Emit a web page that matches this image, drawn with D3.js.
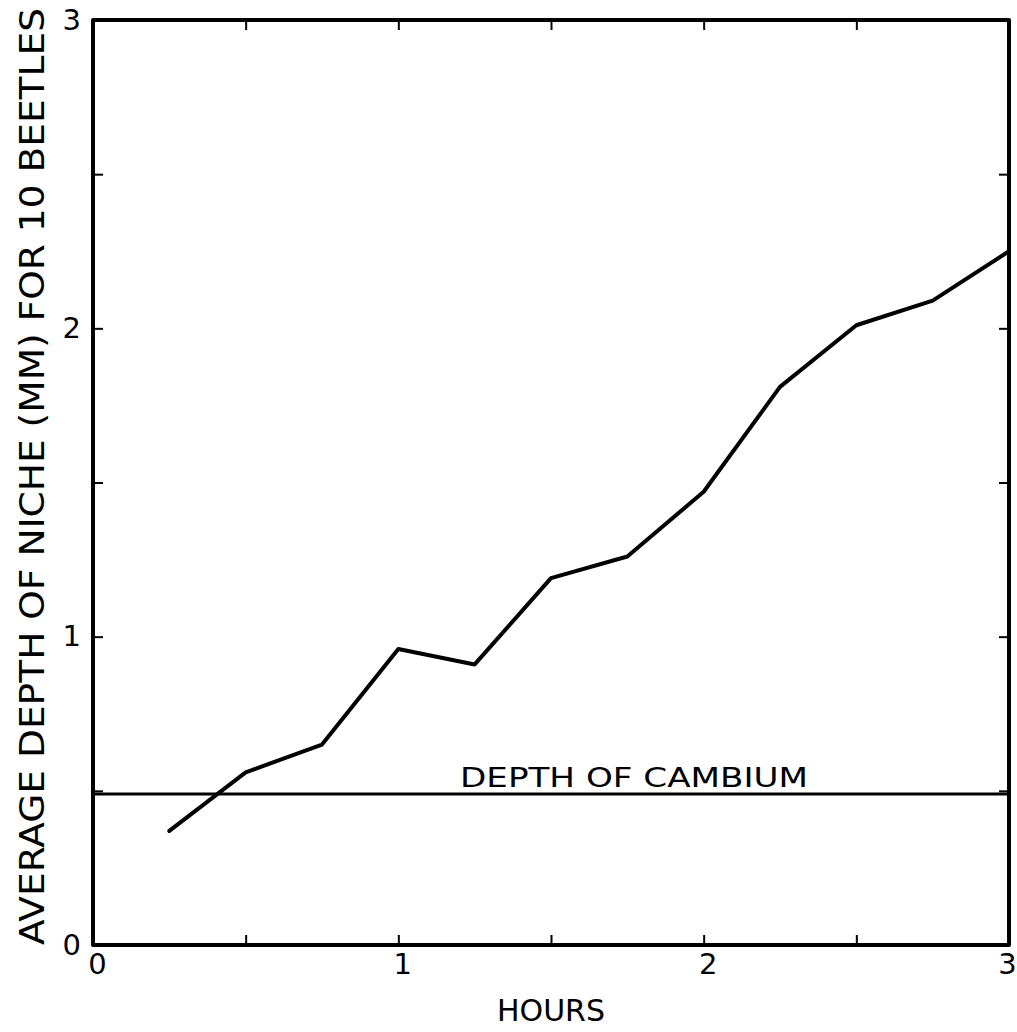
<!DOCTYPE html>
<html>
<head>
<meta charset="utf-8">
<script src="https://cdn.jsdelivr.net/npm/d3@7"></script>
<style>
  body { margin: 0; background: #fff; }
  text { font-family: "DejaVu Sans", sans-serif; fill: #000; }
</style>
</head>
<body>
<div id="chart"></div>
<script>
// readings, every quarter hour
var hours = [0.25, 0.5, 0.75, 1.0, 1.25, 1.5, 1.75, 2.0, 2.25, 2.5, 2.75, 3.0];
var depth = [0.37, 0.56, 0.65, 0.96, 0.91, 1.19, 1.26, 1.47, 1.81, 2.01, 2.09, 2.25];
var cambiumDepth = 0.49;
var tickVals = [0, 0.5, 1, 1.5, 2, 2.5, 3];
var labelVals = [0, 1, 2, 3];

var width = 1017, height = 1032;
var margin = {left: 93, right: 8, top: 20, bottom: 87};

var x = d3.scaleLinear().domain([0, 3]).range([margin.left, width - margin.right]);
var y = d3.scaleLinear().domain([0, 3]).range([height - margin.bottom, margin.top]);

var svg = d3.select("#chart").append("svg")
    .attr("width", width)
    .attr("height", height);

function fmt(d) {
    return labelVals.indexOf(d) >= 0 ? String(d) : "";
}

function styleAxis(g) {
    g.select(".domain").remove();
    g.selectAll(".tick line").attr("stroke", "#000").attr("stroke-width", 2);
    g.selectAll(".tick text").style("font-size", "29px").attr("fill", "#000");
}

// bottom / left carry labels, top / right only ticks, all ticks point inward
var xAxisG = svg.append("g")
    .attr("transform", "translate(0," + y(0) + ")")
    .call(d3.axisBottom(x).tickValues(tickVals).tickSize(-10).tickPadding(8).tickFormat(fmt))
    .call(styleAxis);
xAxisG.selectAll(".tick text").attr("dx", function(d) { return d === 3 ? -2 : 4; });

svg.append("g")
    .attr("transform", "translate(" + x(0) + ",0)")
    .call(d3.axisLeft(y).tickValues(tickVals).tickSize(-10).tickPadding(12).tickFormat(fmt))
    .call(styleAxis);

svg.append("g")
    .attr("transform", "translate(0," + y(3) + ")")
    .call(d3.axisTop(x).tickValues(tickVals).tickSize(-10).tickFormat(""))
    .call(styleAxis);

svg.append("g")
    .attr("transform", "translate(" + x(3) + ",0)")
    .call(d3.axisRight(y).tickValues(tickVals).tickSize(-10).tickFormat(""))
    .call(styleAxis);

// frame
svg.append("rect")
    .attr("x", x(0))
    .attr("y", y(3))
    .attr("width", x(3) - x(0))
    .attr("height", y(0) - y(3))
    .attr("fill", "none")
    .attr("stroke", "#000")
    .attr("stroke-width", 4)
    .attr("stroke-linejoin", "round");

// cambium reference line
svg.append("line")
    .attr("x1", x(0)).attr("x2", x(3))
    .attr("y1", y(cambiumDepth)).attr("y2", y(cambiumDepth))
    .attr("stroke", "#000")
    .attr("stroke-width", 3);

svg.append("text")
    .attr("x", 460)
    .attr("y", y(cambiumDepth) - 7)
    .attr("textLength", 348)
    .attr("lengthAdjust", "spacingAndGlyphs")
    .style("font-size", "27px")
    .text("DEPTH  OF  CAMBIUM");

// data line
var line = d3.line()
    .x(function(d, i) { return x(hours[i]); })
    .y(function(d) { return y(d); });

svg.append("path")
    .datum(depth)
    .attr("d", line)
    .attr("fill", "none")
    .attr("stroke", "#000")
    .attr("stroke-width", 4)
    .attr("stroke-linejoin", "round")
    .attr("stroke-linecap", "round");

// axis titles
svg.append("text")
    .attr("x", (x(0) + x(3)) / 2)
    .attr("y", 1021)
    .attr("text-anchor", "middle")
    .style("font-size", "30px")
    .text("HOURS");

svg.append("text")
    .attr("transform", "translate(44," + 945 + ") rotate(-90)")
    .attr("textLength", 937)
    .attr("lengthAdjust", "spacingAndGlyphs")
    .style("font-size", "33px")
    .text("AVERAGE  DEPTH  OF NICHE (MM) FOR 10 BEETLES");
</script>
</body>
</html>
